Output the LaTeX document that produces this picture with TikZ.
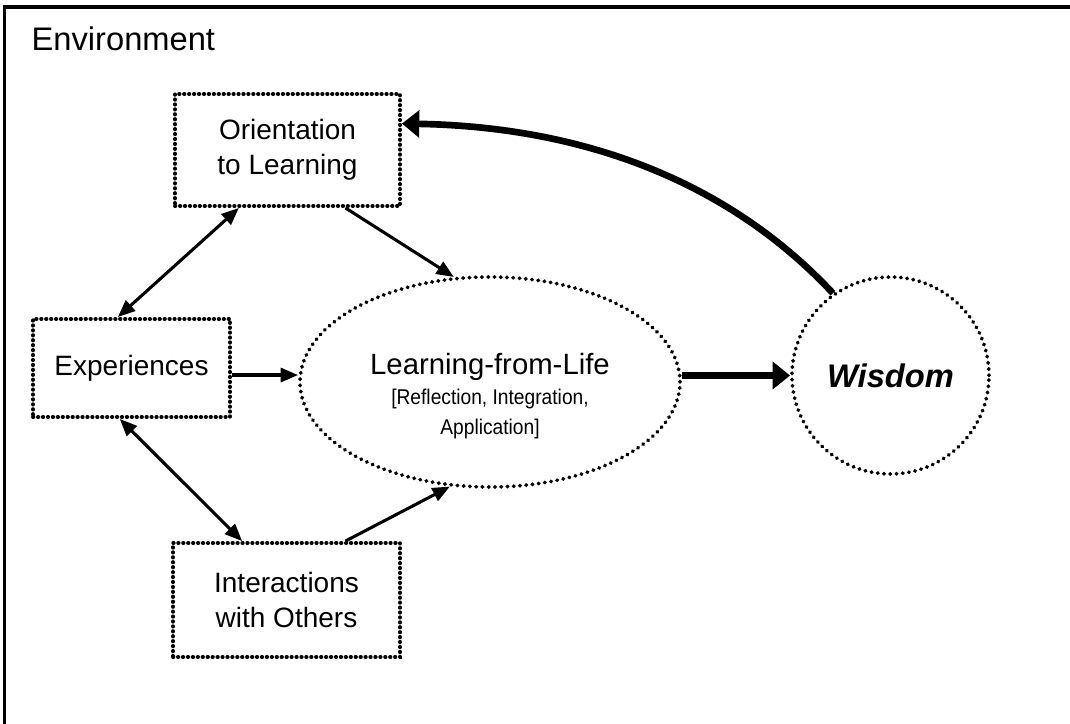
\documentclass[tikz,border=0pt]{standalone}
\usepackage{fontspec}
\setmainfont{Liberation Sans}
\newfontfamily\narrowfont{Liberation Sans}[FakeStretch=0.9]
\usetikzlibrary{arrows.meta,shapes.geometric}

\tikzset{
   dotbox/.style={draw, line width=2.9pt, line cap=round, dash pattern=on 0.3pt off 3.4pt,
      align=center, font=\fontsize{21}{26}\selectfont},
   dotround/.style={draw, line width=2.9pt, line cap=round, dash pattern=on 0.3pt off 4.4pt, inner sep=0pt},
   linkarrow/.style={line width=2.3pt, -{Triangle[length=13pt,width=10.5pt]}},
   linkboth/.style={line width=2.3pt, {Triangle[length=13pt,width=10.5pt]}-{Triangle[length=13pt,width=10.5pt]}},
   boldarrow/.style={line width=5pt, -{Triangle[length=13pt,width=20pt]}}
}

\begin{document}
\begin{tikzpicture}[x=0.75pt,y=0.75pt]

   \useasboundingbox (0,0) rectangle (1070,-724);
   \draw[line width=2.6pt] (4.5,-724) -- (4.5,-7) -- (1070,-7);

   \node[anchor=base west, font=\fontsize{24.5}{28}\selectfont] (env) at (27,-51) {Environment};

   \node[dotbox, minimum width=168.75pt, minimum height=84pt] (ori) at (287.5,-150) {Orientation\\to Learning};
   \node[dotbox, minimum width=147.75pt, minimum height=73.5pt] (exp) at (131.5,-368) {Experiences};
   \node[dotbox, minimum width=170.25pt, minimum height=85.5pt] (int) at (286.5,-600) {Interactions\\with Others};

   \node[dotround, ellipse, minimum width=285pt, minimum height=157.5pt] (lfl) at (490,-382) {};
   \node[align=center, font=\narrowfont\fontsize{16}{22.5}\selectfont] (lfltext) at (490,-396)
      {{\rmfamily\fontsize{22}{26}\selectfont Learning-from-Life}\\{[}Reflection, Integration,\\Application]};

   \node[dotround, circle, minimum size=147.75pt, font=\fontsize{24.5}{28}\selectfont\bfseries\itshape] (wis) at (890.5,-375.5) {Wisdom};

   \draw[linkboth] (ori.230) -- (exp.105);
   \draw[linkarrow] (ori.-45) -- (lfl.109);
   \draw[linkarrow] (exp.-4) -- (exp.-4 -| lfl.west);
   \draw[linkboth] (exp.-103) -- (int.127.5);
   \draw[linkarrow] (int.45) -- (lfl.-111);

   \draw[boldarrow] (wis.west -| lfl.east) -- (wis.west);
   \draw[boldarrow] (wis.125) to[out=133, in=-1, out distance=113pt, in distance=138pt] (ori.13);

\end{tikzpicture}
\end{document}
